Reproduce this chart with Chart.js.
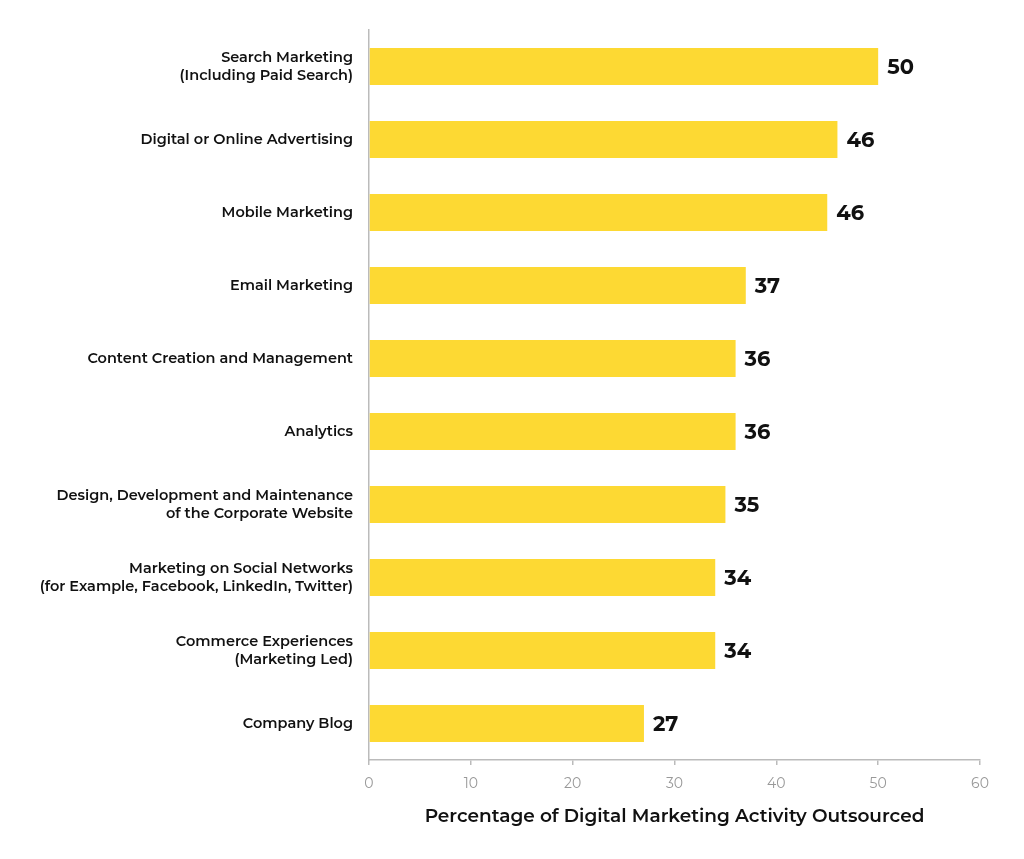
<!DOCTYPE html>
<html>
<head>
<meta charset="utf-8">
<script src="https://cdn.jsdelivr.net/npm/chart.js@4"></script>
<style>
  html, body { margin: 0; padding: 0; background: #fff; }
  #wrap { width: 1024px; height: 859px; }
</style>
</head>
<body>
<div id="wrap"><canvas id="myChart" width="1024" height="859"></canvas></div>
<script>
// categories, top to bottom
const categories = [
    ['Search Marketing', '(Including Paid Search)'],
    'Digital or Online Advertising',
    'Mobile Marketing',
    'Email Marketing',
    'Content Creation and Management',
    'Analytics',
    ['Design, Development and Maintenance', 'of the Corporate Website'],
    ['Marketing on Social Networks', '(for Example, Facebook, LinkedIn, Twitter)'],
    ['Commerce Experiences', '(Marketing Led)'],
    'Company Blog'
];
// bar lengths as drawn
const values = [50, 46, 45, 37, 36, 36, 35, 34, 34, 27];
// numbers printed next to the bars
const valueLabels = ['50', '46', '46', '37', '36', '36', '35', '34', '34', '27'];
const xTicks = [0, 10, 20, 30, 40, 50, 60];

const FONT = "Montserrat, Inter, 'Noto Sans', sans-serif";

// draws the bold numbers at the end of each bar
const valueLabelPlugin = {
    id: 'valueLabels',
    afterDatasetsDraw(chart) {
        const ctx = chart.ctx;
        const meta = chart.getDatasetMeta(0);
        ctx.save();
        ctx.font = '700 21px ' + FONT;
        ctx.fillStyle = '#111';
        ctx.textAlign = 'left';
        ctx.textBaseline = 'middle';
        meta.data.forEach(function (bar, i) {
            ctx.fillText(valueLabels[i], bar.x + 9, bar.y + 1);
        });
        ctx.restore();
    }
};

const data = {
    labels: categories,
    datasets: [{
        data: values,
        backgroundColor: '#FDD933',
        borderWidth: 0,
        barPercentage: 0.51,
        categoryPercentage: 1
    }]
};

const config = {
    type: 'bar',
    data: data,
    plugins: [valueLabelPlugin],
    options: {
        indexAxis: 'y',
        responsive: false,
        animation: false,
        layout: { padding: { top: 30, right: 44, bottom: 0, left: 0 } },
        plugins: {
            legend: { display: false },
            tooltip: { enabled: false }
        },
        scales: {
            x: {
                min: 0,
                max: 60,
                afterBuildTicks: function (scale) {
                    scale.ticks = xTicks.map(v => ({ value: v }));
                },
                afterFit: function (scale) { scale.height = 99; },
                border: { color: '#bbb', width: 1.5 },
                grid: {
                    drawOnChartArea: false,
                    drawTicks: true,
                    tickLength: 5,
                    color: '#bbb',
                    lineWidth: 1.5
                },
                ticks: {
                    color: '#999',
                    padding: 10,
                    font: { family: FONT, size: 14, weight: '400' }
                },
                title: {
                    display: true,
                    text: 'Percentage of Digital Marketing Activity Outsourced',
                    color: '#111',
                    font: { family: FONT, size: 18.5, weight: '600' },
                    padding: { top: 0, bottom: 31 }
                }
            },
            y: {
                afterFit: function (scale) { scale.width = 369; },
                border: { color: '#bbb', width: 1.5 },
                grid: { display: false, drawTicks: false },
                ticks: {
                    color: '#111',
                    padding: 16,
                    crossAlign: 'near',
                    font: { family: FONT, size: 14.5, weight: '600', lineHeight: 1.25 }
                }
            }
        }
    }
};

const myChart = new Chart(
    document.getElementById('myChart'),
    config
);
</script>
</body>
</html>
